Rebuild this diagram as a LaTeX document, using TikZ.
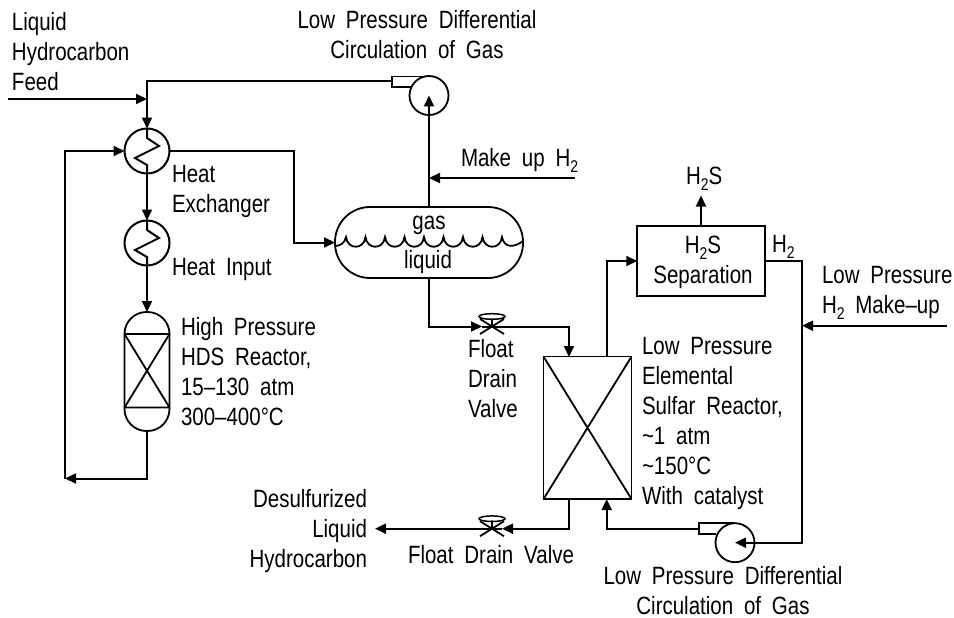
\documentclass[tikz,border=0pt]{standalone}
\usepackage{fontspec}
\usetikzlibrary{arrows.meta,calc}
\setmainfont[FakeStretch=0.82,WordSpace=1.9]{Liberation Sans}
\newcommand{\lowtwo}{\raisebox{-6pt}{\fontsize{17}{17}\selectfont 2}}
\tikzset{
  pipe/.style={line width=2pt,line join=miter},
  flow/.style={pipe,-{Triangle[length=11pt,width=10pt]}},
  thin line/.style={line width=1.8pt},
  lab/.style={inner sep=0pt,outer sep=0pt,font=\fontsize{25}{30}\selectfont},
  labl/.style={lab,anchor=base west,align=left},
  labr/.style={lab,anchor=base east,align=right},
  labc/.style={lab,anchor=base,align=center},
  exch/.style={circle,draw,pipe,minimum size=45pt,inner sep=0pt,outer sep=0pt},
  pumpc/.style={circle,draw,thin line,minimum size=39pt,inner sep=0pt,outer sep=0pt},
  boxn/.style={rectangle,draw,thin line,inner sep=0pt,outer sep=0pt},
  valvesym/.pic={
    \draw[thin line] (-12,-7.5) -- (12,7.5) (-12,7.5) -- (12,-7.5) (0,-8) -- (0,0);
    \draw[line width=1.5pt] (0,-10) ellipse[x radius=13,y radius=2.8];
  },
  coilsym/.pic={
    \draw[pipe] (0,-23) -- (0,-13) -- (12,-5) -- (-12,7) -- (0,14) -- (0,22);
  }
}
\begin{document}
\begin{tikzpicture}[x=1pt,y=-1pt]
\useasboundingbox (0,0) rectangle (954,618);
% equipment
\node[exch] (hx1) at (147,151) {};
\node[exch] (hx2) at (147,243) {};
\pic at (hx1) {coilsym};
\pic at (hx2) {coilsym};
\node[boxn,minimum width=45pt,minimum height=119pt,rounded corners=22pt] (hds) at (147,371.5) {};
\draw[thin line] (124.5,334) -- (169.5,334) (124.5,407.5) -- (169.5,407.5)
  (124.5,334) -- (169.5,407.5) (124.5,407.5) -- (169.5,334);
\node[pumpc] (pump1) at (429,95.5) {};
\draw[thin line] (429,76.5) -- (392,76.5) -- (392,87) -- (412,87);
\coordinate (p1out) at (392,81.5);
\node[boxn,minimum width=188pt,minimum height=71pt,rounded corners=35pt] (drum) at (429,242.5) {};
\draw[thin line] (335,246) .. controls (340,246) and (345,243) .. (346,237)
 \foreach \a/\b in {346/365.5,365.5/385,385/404.5,404.5/424,424/443.5,443.5/463,463/482.5,482.5/502}{
   .. controls ({\a+1.5},250) and ({\b-1.5},250) .. (\b,237) }
 .. controls (504,248) and (514,248) .. (523,241);
\node[boxn,minimum width=88pt,minimum height=142.5pt] (sulf) at (587.5,427.8) {};
\draw[thin line] (sulf.north west) -- (sulf.south east) (sulf.south west) -- (sulf.north east);
\node[boxn,minimum width=127.5pt,minimum height=70pt] (sep) at (701,261) {};
\node[pumpc] (pump2) at (735,542.7) {};
\draw[thin line] (735,523.2) -- (699,523.2) -- (699,534) -- (716,534);
\coordinate (p2out) at (699,528.7);
\coordinate (v1) at (492,326.5);
\coordinate (v1in) at (482,326.5);
\coordinate (v2) at (492,528.7);
\coordinate (v2in) at (502,528.7);
\pic at (v1) {valvesym};
\pic at (v2) {valvesym};
% free ends and bends
\coordinate (feed) at (8,99);
\coordinate (feedj) at (147,99);
\coordinate (b1) at (294,200);
\coordinate (ret) at (65,478.5);
\coordinate (mu) at (575,178);
\coordinate (muj) at (429,178);
\coordinate (sulfin) at (569,357);
\coordinate (sulfout) at (569,499);
\coordinate (sulfgas) at (606.7,357);
\coordinate (sulfret) at (606.7,499);
\coordinate (h2s) at (701,195.5);
\coordinate (r1) at (802,300);
\coordinate (lpm) at (947,325.7);
\coordinate (lpj) at (802,325.7);
\coordinate (prod) at (375,528.7);
% connectors
\draw[flow] (p1out) -| (hx1.north);
\draw[flow] (feed) -- (feedj);
\draw[flow] (hx1.south) -- (hx2.north);
\draw[flow] (hx2.south) -- (hds.north);
\draw[flow] (hds.south) |- (ret);
\draw[flow] (ret) |- (hx1.west);
\draw[flow] (hx1.east) -| (b1) |- (drum.west);
\draw[flow] (drum.north) -- (pump1.center);
\draw[flow] (mu) -- (muj);
\draw[flow] (drum.south) |- (v1in);
\draw[pipe] (v1in) -- (v1);
\draw[flow] (v1) -| (sulfin);
\draw[flow] (sulfgas) |- (sep.west);
\draw[flow] (sep.north) -- (h2s);
\draw[flow] (sep.east) -| (r1) |- (pump2.center);
\draw[flow] (lpm) -- (lpj);
\draw[flow] (p2out) -| (sulfret);
\draw[flow] (sulfout) |- (v2in);
\draw[pipe] (v2in) -- (v2);
\draw[flow] (v2) -- (prod);
% labels (anchored on the baseline of the last line)
\node[labl] (t1) at (12,91) {Liquid\\Hydrocarbon\\Feed};
\node[labc] (t2) at (417,59) {Low Pressure Differential\\Circulation of Gas};
\node[labl] (t3) at (172,212) {Heat\\Exchanger};
\node[labl] (t4) at (172,275) {Heat Input};
\node[labl] (t5) at (181,425) {High Pressure\\HDS Reactor,\\15–130 atm\\300–400°C};
\node[labr] (t6) at (367,567) {Desulfurized\\Liquid\\Hydrocarbon};
\node[labl] (t7) at (408,563) {Float Drain Valve};
\node[labl] (t8) at (468,417) {Float\\Drain\\Valve};
\node[labl] (t9) at (461,166) {Make up H\lowtwo};
\node[labl] (t10) at (686,184) {H\lowtwo S};
\node[labc] (t11) at (703,283) {H\lowtwo S\\Separation};
\node[labl] (t12) at (772,252) {H\lowtwo};
\node[labl] (t13) at (822,313) {Low Pressure\\H\lowtwo{} Make–up};
\node[labl] (t14) at (642,504) {Low Pressure\\Elemental\\Sulfar Reactor,\\\textasciitilde 1 atm\\\textasciitilde 150°C\\With catalyst};
\node[labc] (t15) at (723,614) {Low Pressure Differential\\Circulation of Gas};
\node[labc] (t16) at (429,229) {gas};
\node[labc] (t17) at (428,268) {liquid};
\end{tikzpicture}
\end{document}
